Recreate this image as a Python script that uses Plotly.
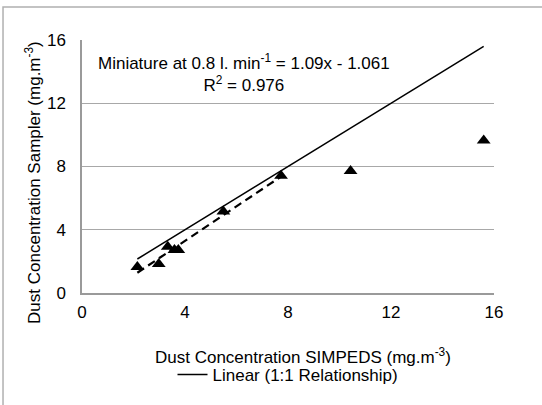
import plotly.graph_objects as go

# Data
simpeds = [2.15, 2.98, 3.33, 3.59, 3.74, 5.49, 7.73, 10.43, 15.6]
sampler = [1.65, 1.84, 2.93, 2.72, 2.72, 5.15, 7.42, 7.72, 9.64]
fit_count = 7          # points used for the miniature regression
fit_slope = 1.09
fit_intercept = -1.061
x_ticks = [0, 4, 8, 12, 16]
y_ticks = [0, 4, 8, 12, 16]

FONT = "Liberation Sans, Arial, sans-serif"
FS = 17

fit_x = [min(simpeds[:fit_count]), max(simpeds[:fit_count])]
fit_y = [fit_slope * v + fit_intercept for v in fit_x]
one_x = [min(simpeds), max(simpeds)]
one_y = list(one_x)

fig = go.Figure()
fig.add_trace(go.Scatter(x=one_x, y=one_y, mode="lines",
                         line=dict(color="black", width=1.5),
                         name="Linear (1:1 Relationship)", showlegend=True))
fig.add_trace(go.Scatter(x=fit_x, y=fit_y, mode="lines",
                         line=dict(color="black", width=2.2, dash="8px,5px"),
                         showlegend=False))
fig.add_trace(go.Scatter(x=simpeds, y=sampler, mode="markers",
                         marker=dict(symbol="triangle-up", size=12, color="black"),
                         showlegend=False))

fig.update_layout(
    width=542, height=405,
    margin=dict(l=82, r=48, t=40, b=112),
    paper_bgcolor="white", plot_bgcolor="white",
    font=dict(family=FONT, size=FS, color="black"),
    xaxis=dict(range=[0, 16], tickvals=x_ticks, showgrid=False,
               showline=True, linecolor="#9a9a9a", linewidth=1.5,
               ticks="", ticklabelstandoff=3, zeroline=False,
               tickfont=dict(size=FS)),
    yaxis=dict(range=[0, 16], tickvals=y_ticks, showgrid=True,
               gridcolor="#a8a8a8", gridwidth=1.2,
               showline=True, linecolor="#9a9a9a", linewidth=1.5,
               ticks="", ticklabelstandoff=11, zeroline=False,
               tickfont=dict(size=FS)),
    legend=dict(orientation="h", x=0.5, xanchor="center",
                y=-0.324, yanchor="middle", itemwidth=30,
                font=dict(size=FS), bgcolor="rgba(0,0,0,0)"),
    showlegend=True,
)

fig.add_annotation(xref="paper", yref="paper", x=0.393, y=0.87,
                   xanchor="center", yanchor="middle",
                   text="Miniature at 0.8 l. min<sup>-1</sup> = 1.09x - 1.061<br>R<sup>2</sup> = 0.976",
                   showarrow=False, align="center", font=dict(size=FS))
fig.add_annotation(xref="paper", yref="paper", x=0.536, y=-0.249,
                   xanchor="center", yanchor="middle",
                   text="Dust Concentration SIMPEDS (mg.m<sup>-3</sup>)",
                   showarrow=False, font=dict(size=FS))
fig.add_annotation(xref="paper", yref="paper", x=-0.119, y=0.439,
                   xanchor="center", yanchor="middle",
                   text="Dust Concentration Sampler (mg.m<sup>-3</sup>)",
                   textangle=-90, showarrow=False, font=dict(size=FS))

fig.add_shape(type="rect", xref="paper", yref="paper",
              x0=-0.1917, x1=1.3, y0=-0.6, y1=1.13,
              line=dict(color="#b0b0b0", width=1.5), layer="below")

fig.write_html("out.html",
               config={"displayModeBar": False},
               post_script="document.body.style.margin='0';document.body.style.overflow='hidden';")
